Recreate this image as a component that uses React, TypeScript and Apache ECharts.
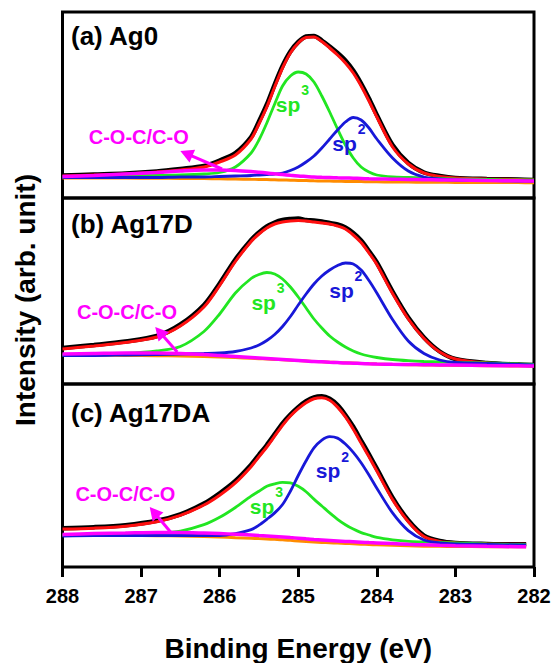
import React, { useEffect, useRef } from "react";
import * as echarts from "echarts";

// Binding energy sampling points (eV)
const energy = [288, 287.6, 287.2, 286.8, 286.5, 286.2, 286.0, 285.8, 285.6, 285.5, 285.4, 285.3, 285.2, 285.1, 285.0, 284.9, 284.8, 284.7, 284.6, 284.5, 284.4, 284.3, 284.2, 284.1, 284.0, 283.8, 283.6, 283.4, 283.2, 283.0, 282.6, 282.2, 282.0];
const energyC = [288, 287.6, 287.2, 286.8, 286.5, 286.2, 286.0, 285.8, 285.6, 285.5, 285.4, 285.3, 285.2, 285.1, 285.0, 284.9, 284.8, 284.7, 284.6, 284.5, 284.4, 284.3, 284.2, 284.1, 284.0, 283.8, 283.6, 283.4, 283.2, 283.0, 282.6, 282.2, 282.1];

// (a) Ag0
const dataA = [22.5, 23.5, 24.5, 26.5, 29, 32, 37.5, 45, 61, 76.5, 93.5, 113.5, 132, 146.5, 156, 161.5, 162, 157.5, 151.5, 145, 137.5, 127.5, 114.5, 99.5, 83, 53, 35, 25.5, 22, 20, 19, 18.5, 18];
const fitA = [22, 23, 24, 26, 28, 31, 36, 43, 59, 74, 91, 111, 130, 145, 155, 160.5, 161, 156.5, 150, 143, 135, 125, 112, 97, 81, 51, 34, 25, 21.5, 20, 19, 18.5, 18];
const sp3A = [21, 21.5, 22, 22.5, 23, 24, 25.5, 31, 45, 58, 75, 94, 112, 122, 126, 124, 116, 102, 86, 69, 53, 40, 31, 26, 23, 21, 20.5, 20, 19.5, 19, 18.5, 18, 18];
const sp2A = [20.5, 20.5, 20.5, 20.5, 21, 21, 21.5, 22, 22.5, 23, 23.5, 24, 25, 27.5, 31, 36, 42, 50, 59, 68, 76, 80.5, 78, 70, 59, 40, 27, 21, 19, 18, 17.5, 17, 17];
const cocA = [21.5, 22.5, 24, 25.5, 27, 28, 28, 27.5, 26.5, 25.8, 25, 24.2, 23.5, 22.7, 22, 21.5, 21, 20.7, 20.5, 20.2, 20, 19.8, 19.5, 19.2, 19, 18.8, 18.5, 18.3, 18.1, 18, 17.5, 17.2, 17];
const baseA = [20, 20, 19.9, 19.8, 19.6, 19.4, 19.2, 19, 18.7, 18.55, 18.4, 18.2, 18, 17.8, 17.6, 17.4, 17.2, 17.05, 16.9, 16.75, 16.6, 16.5, 16.4, 16.3, 16.2, 16, 15.9, 15.8, 15.7, 15.6, 15.5, 15.4, 15.3];

// (b) Ag17D
const dataB = [36, 39, 42.5, 48, 59.5, 79, 100.5, 124.5, 144, 151.5, 157.5, 161.5, 164, 165, 165.5, 164, 163.5, 162.5, 161, 159.5, 156.5, 151, 143.5, 133, 121.5, 92.5, 66.5, 46.5, 32.5, 25, 21, 19.5, 19];
const fitB = [35, 38, 41.5, 47, 58, 77, 98.5, 122.5, 142.5, 150, 156, 160, 162, 163, 163.5, 163, 162, 161, 160, 158, 155, 149, 141.5, 131, 119.5, 90.5, 65, 45.5, 32, 25, 21, 19.5, 19];
const sp3B = [29, 29.5, 30.5, 33, 37.5, 52.5, 70, 91, 105.5, 109.5, 111.5, 110, 105, 97, 87, 76, 65, 56, 48, 42, 37, 33, 30, 28, 26.5, 24.5, 23.3, 22.5, 22, 21.5, 21, 20, 19.5];
const sp2B = [28.5, 28.5, 29, 29.5, 30, 30.5, 31, 32.5, 36, 39, 43.5, 49.5, 57.5, 67.5, 79, 90, 100, 108, 114, 118.5, 121, 120, 114, 103.5, 91, 64.5, 43, 30.5, 24, 21.5, 20.5, 19.5, 19];
const cocB = [30, 30.5, 31, 31, 30.5, 29.5, 28.5, 27.5, 26.5, 26, 25.5, 25, 24.5, 24, 23.5, 23, 22.5, 22.2, 21.8, 21.4, 21, 20.8, 20.5, 20.2, 20, 19.7, 19.5, 19.3, 19.1, 19, 18.5, 18.2, 18];
const baseB = [29, 28.8, 28.6, 28.3, 28, 27.5, 27, 26.4, 25.7, 25.35, 25, 24.6, 24.2, 23.8, 23.4, 23, 22.6, 22.2, 21.8, 21.5, 21.2, 20.9, 20.6, 20.3, 20, 19.6, 19.3, 19, 18.8, 18.6, 18.3, 18, 17.8];

// (c) Ag17DA
const dataC = [39.5, 40.5, 42.5, 47, 53.5, 64.5, 75, 87.5, 104, 114, 124, 135, 146, 155, 162.5, 168.5, 172.5, 173.5, 171, 164.5, 154.5, 142.5, 128.5, 114.5, 100, 70.5, 47.5, 32, 26.5, 24.5, 23.5, 23, 23];
const fitC = [38.5, 39.5, 41.5, 46, 52.5, 63, 73, 85.5, 102, 112, 122, 133, 144, 153.5, 161, 167, 171, 172, 169.5, 162.5, 152.5, 140, 126, 112, 97.5, 68.5, 46, 31, 26, 24.5, 23.5, 23, 23];
const sp3C = [32.5, 33, 33.5, 34.5, 36.5, 43, 50.5, 60.5, 72, 77, 82, 84.5, 86, 85.5, 82, 76.5, 69, 62, 55, 48.5, 43, 38.5, 35, 32.5, 30, 27.5, 26, 25.5, 25, 24.5, 23.5, 23, 23];
const sp2C = [31.5, 32, 32, 32, 32, 32, 32, 34, 38, 42.5, 48.5, 55, 63.5, 77, 93, 108, 121, 129, 132.5, 131, 125, 116.5, 106, 93.5, 80, 55, 37, 27.5, 24.5, 23.5, 23, 22.5, 22.5];
const cocC = [33, 34, 34.5, 35, 35, 34.5, 34, 33.3, 32.5, 32, 31.5, 31, 30.5, 29.9, 29.3, 28.6, 28, 27.5, 27, 26.5, 26, 25.6, 25.2, 24.8, 24.5, 23.8, 23, 22.5, 22, 21.6, 21, 20.6, 20.5];
const baseC = [32, 32, 32, 31.8, 31.5, 31, 30.5, 29.8, 29.2, 28.85, 28.5, 28.1, 27.7, 27.1, 26.5, 26, 25.5, 25, 24.6, 24.3, 24, 23.6, 23.2, 22.8, 22.5, 22, 21.5, 21.2, 21, 20.9, 20.7, 20.5, 20.5];

const panelTitles = ["(a) Ag0", "(b) Ag17D", "(c) Ag17DA"];

// Annotation anchors in data units [energy, intensity]
const cocLabelAt = [[287.03, 61], [287.18, 72], [287.2, 74]];
const arrowFrom = [[285.97, 29], [286.54, 32], [286.62, 35]];
const arrowTo = [[286.5, 47], [286.82, 57], [286.89, 61]];
const sp3LabelAt = [[285.13, 94], [285.44, 82], [285.46, 62]];
const sp2LabelAt = [[284.41, 55], [284.45, 94], [284.62, 98]];

const FONT = "'Liberation Sans', Arial, Helvetica, sans-serif";
const RED = "#ff1010";
const GREEN = "#22e622";
const BLUE = "#1818d8";
const MAGENTA = "#ff00ff";
const ORANGE = "#ff8c00";

const panels = [
  { e: energy, data: dataA, fit: fitA, sp3: sp3A, sp2: sp2A, coc: cocA, base: baseA },
  { e: energy, data: dataB, fit: fitB, sp3: sp3B, sp2: sp2B, coc: cocB, base: baseB },
  { e: energyC, data: dataC, fit: fitC, sp3: sp3C, sp2: sp2C, coc: cocC, base: baseC },
];

const W = 556;
const H = 663;
const GRID_LEFT = 62.5;
const GRID_RIGHT = 22;
const GRID_TOPS = [12, 198, 384];
const PANEL_H = 186;
const TITLE_Y = [36, 224, 413];

export default function App() {
  const ref = useRef<HTMLDivElement>(null);

  useEffect(() => {
    const el = ref.current;
    if (!el) return;
    const chart = echarts.init(el, null, { renderer: "svg" });

    const grid = GRID_TOPS.map((top) => ({
      left: GRID_LEFT,
      right: GRID_RIGHT,
      top,
      height: PANEL_H,
      show: true,
      borderColor: "#000",
      borderWidth: 3,
      backgroundColor: "transparent",
    }));

    const xAxis = panels.map((_, i) => ({
      type: "value",
      gridIndex: i,
      min: 282,
      max: 288,
      interval: 1,
      inverse: true,
      axisLine: { show: false },
      splitLine: { show: false },
      axisTick: { show: i === 2, inside: false, length: 10, lineStyle: { color: "#000", width: 3 } },
      axisLabel: {
        show: i === 2,
        margin: 19,
        color: "#000",
        fontSize: 20,
        fontWeight: "bold",
        fontFamily: FONT,
        showMinLabel: true,
        showMaxLabel: true,
      },
      name: i === 2 ? "Binding Energy (eV)" : "",
      nameLocation: "middle",
      nameGap: 67,
      nameTextStyle: { color: "#000", fontSize: 28, fontWeight: "bold", fontFamily: FONT },
    }));

    const yAxis = panels.map((_, i) => ({
      type: "value",
      gridIndex: i,
      min: 0,
      max: PANEL_H,
      show: false,
    }));

    const series: any[] = [];
    panels.forEach((p, i) => {
      const mk = (vals: number[], color: string, width: number, z: number) => ({
        type: "line",
        xAxisIndex: i,
        yAxisIndex: i,
        data: p.e.map((x, k) => [x, vals[k]]),
        showSymbol: false,
        smooth: 0.3,
        lineStyle: { color, width },
        z,
        silent: true,
      });
      series.push(mk(p.base, ORANGE, 3, 2));
      series.push(mk(p.data, "#000", 4.5, 3));
      series.push(mk(p.fit, RED, 3, 4));
      series.push(mk(p.sp3, GREEN, 2.8, 5));
      series.push(mk(p.sp2, BLUE, 2.8, 6));
      series.push(mk(p.coc, MAGENTA, 3.5, 7));
    });

    chart.setOption({
      animation: false,
      backgroundColor: "#fff",
      grid,
      xAxis,
      yAxis,
      series,
    });

    const graphic: any[] = [];
    graphic.push({
      type: "text",
      x: 25,
      y: 300,
      rotation: Math.PI / 2,
      style: {
        text: "Intensity (arb. unit)",
        font: `bold 28px ${FONT}`,
        fill: "#000",
        align: "center",
        verticalAlign: "middle",
      },
    });

    panels.forEach((_, i) => {
      const toPx = (pt: number[]) => chart.convertToPixel({ gridIndex: i }, pt) as number[];
      graphic.push({
        type: "text",
        x: 71,
        y: TITLE_Y[i],
        style: { text: panelTitles[i], font: `bold 26px ${FONT}`, fill: "#000", align: "left", verticalAlign: "middle" },
      });

      const [lx, ly] = toPx(cocLabelAt[i]);
      graphic.push({
        type: "text",
        x: lx,
        y: ly,
        style: { text: "C-O-C/C-O", font: `bold 20px ${FONT}`, fill: MAGENTA, align: "center", verticalAlign: "middle" },
      });

      const [tx, ty] = toPx(arrowFrom[i]);
      const [hx, hy] = toPx(arrowTo[i]);
      const dx = hx - tx;
      const dy = hy - ty;
      const len = Math.hypot(dx, dy) || 1;
      const ux = dx / len;
      const uy = dy / len;
      const headL = 13;
      const headW = 7;
      const bx = hx - ux * headL;
      const by = hy - uy * headL;
      graphic.push({
        type: "line",
        shape: { x1: tx, y1: ty, x2: bx + ux * 2, y2: by + uy * 2 },
        style: { stroke: MAGENTA, lineWidth: 3 },
        z: 100,
      });
      graphic.push({
        type: "polygon",
        shape: { points: [[hx, hy], [bx - uy * headW, by + ux * headW], [bx + uy * headW, by - ux * headW]] },
        style: { fill: MAGENTA },
        z: 100,
      });

      const spLabel = (at: number[], sup: string, color: string) => {
        const [sx, sy] = toPx(at);
        graphic.push({
          type: "text",
          x: sx,
          y: sy,
          style: { text: "sp", font: `bold 21px ${FONT}`, fill: color, align: "center", verticalAlign: "middle" },
          z: 100,
        });
        graphic.push({
          type: "text",
          x: sx + 17,
          y: sy - 14,
          style: { text: sup, font: `bold 14px ${FONT}`, fill: color, align: "center", verticalAlign: "middle" },
          z: 100,
        });
      };
      spLabel(sp3LabelAt[i], "3", GREEN);
      spLabel(sp2LabelAt[i], "2", BLUE);
    });

    chart.setOption({ graphic });

    return () => chart.dispose();
  }, []);

  return (
    <div
      ref={ref}
      style={{ position: "fixed", left: 0, top: 0, width: W, height: H, background: "#fff" }}
    />
  );
}
